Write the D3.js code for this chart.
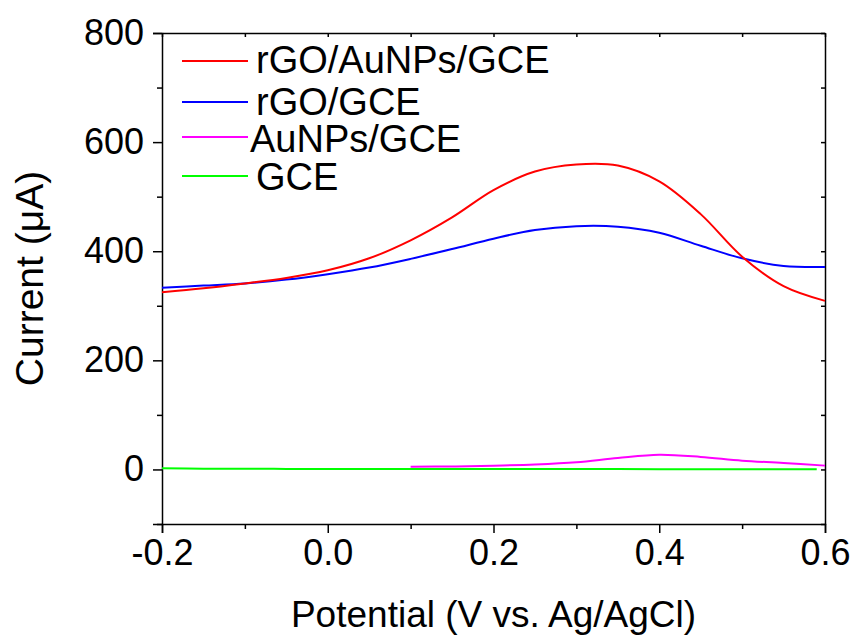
<!DOCTYPE html>
<html lang="en">
<head>
  <meta charset="UTF-8">
  <script src="https://cdn.jsdelivr.net/npm/d3@7/dist/d3.min.js"></script>
  <title>Current vs Potential</title>
  <style>
    body { margin: 0; background: #fff; }
    svg { display: block; }
    text { font-family: "Liberation Sans", Arial, sans-serif; fill: #000; }
    .axis path, .axis line { stroke: #000; stroke-width: 1.5; }
  </style>
</head>
<body>
<div id="chart"></div>
<script>
  // Data
  var potential = [-0.2, -0.15, -0.1, -0.05, 0.0, 0.05, 0.1, 0.15, 0.2, 0.25, 0.3, 0.35, 0.4, 0.45, 0.5, 0.55, 0.6];
  var rgoAu   = [325, 332, 341, 351, 365, 387, 420, 462, 512, 546, 559, 557, 528, 468, 390, 336, 309];
  var rgo     = [333, 337, 341, 348, 358, 370, 386, 404, 423, 439, 446, 445, 434, 410, 387, 373, 371];
  var gce     = [2, 1.5, 1.5, 1, 1, 1, 1, 1, 1, 1, 1, 1, 0.5, 0.5, 0.5, 0.5, 0.5];
  var potentialAu = [0.1, 0.15, 0.2, 0.25, 0.3, 0.35, 0.4, 0.45, 0.5, 0.55, 0.6];
  var auNPs   = [5, 5.5, 7, 9, 13, 21, 27, 23, 16, 12, 7];

  var seriesNames  = ["rGO/AuNPs/GCE", "rGO/GCE", "AuNPs/GCE", "GCE"];
  var seriesColors = ["#ff0000", "#0000ff", "#ff00ff", "#00ff00"];

  var xTicks = [-0.2, 0.0, 0.2, 0.4, 0.6];
  var xMinor = [-0.1, 0.1, 0.3, 0.5];
  var yTicks = [0, 200, 400, 600, 800];
  var yMinor = [-100, 100, 300, 500, 700];

  // Layout
  var margin = {top: 33, right: 28, bottom: 113, left: 162};
  var W = 853, H = 637;
  var width = W - margin.left - margin.right;
  var height = H - margin.top - margin.bottom;

  var svg = d3.select("#chart").append("svg")
      .attr("width", W)
      .attr("height", H);

  var g = svg.append("g")
      .attr("transform", "translate(" + margin.left + "," + margin.top + ")");

  var x = d3.scaleLinear().domain([-0.2, 0.6]).range([0, width]);
  var y = d3.scaleLinear().domain([-100, 800]).range([height, 0]);

  function tidy(sel) {
    sel.selectAll("text").attr("font-size", 36);
  }

  // Bottom axis (major + minor, outward)
  g.append("g").attr("class", "axis")
      .attr("transform", "translate(0," + height + ")")
      .call(d3.axisBottom(x).tickValues(xTicks).tickSize(9).tickPadding(6)
        .tickFormat(function(d) { return d.toFixed(1); }))
      .call(tidy);
  g.append("g").attr("class", "axis")
      .attr("transform", "translate(0," + height + ")")
      .call(d3.axisBottom(x).tickValues(xMinor).tickSize(5).tickFormat(""))
      .select(".domain").remove();

  // Left axis
  g.append("g").attr("class", "axis")
      .call(d3.axisLeft(y).tickValues(yTicks).tickSize(9).tickPadding(9))
      .call(tidy);
  g.append("g").attr("class", "axis")
      .call(d3.axisLeft(y).tickValues(yMinor).tickSize(5).tickFormat(""))
      .select(".domain").remove();

  // Top axis (inward ticks)
  g.append("g").attr("class", "axis")
      .call(d3.axisTop(x).tickValues(xTicks.concat(xMinor)).tickSizeInner(-4).tickSizeOuter(0).tickFormat(""));

  // Right axis (inward ticks)
  g.append("g").attr("class", "axis")
      .attr("transform", "translate(" + width + ",0)")
      .call(d3.axisRight(y).tickValues(yTicks.concat(yMinor)).tickSizeInner(-4).tickSizeOuter(0).tickFormat(""));

  g.selectAll(".axis .domain").attr("stroke-width", 1.8);

  // Lines
  var line = d3.line()
      .x(function(d) { return x(d[0]); })
      .y(function(d) { return y(d[1]); })
      .curve(d3.curveCatmullRom.alpha(0.5));

  var series = [
    d3.zip(potential, rgoAu),
    d3.zip(potential, rgo),
    d3.zip(potentialAu, auNPs),
    d3.zip(potential.slice(0, -1).concat([0.59]), gce)
  ];

  // draw green first, red last
  [3, 2, 1, 0].forEach(function(i) {
    g.append("path")
      .datum(series[i])
      .attr("fill", "none")
      .attr("stroke", seriesColors[i])
      .attr("stroke-width", 2)
      .attr("d", line);
  });

  // Legend
  var legendRows = [
    {ly: 28, ty: 40, tx: 94},
    {ly: 69, ty: 82, tx: 94},
    {ly: 104, ty: 119, tx: 88},
    {ly: 143, ty: 157, tx: 94}
  ];
  var legend = g.append("g").selectAll("g")
      .data(seriesNames)
      .enter().append("g");

  legend.append("line")
      .attr("x1", 20).attr("x2", 86)
      .attr("y1", function(d, i) { return legendRows[i].ly; })
      .attr("y2", function(d, i) { return legendRows[i].ly; })
      .attr("stroke", function(d, i) { return seriesColors[i]; })
      .attr("stroke-width", 2);

  legend.append("text")
      .attr("x", function(d, i) { return legendRows[i].tx; })
      .attr("y", function(d, i) { return legendRows[i].ty; })
      .attr("font-size", 38)
      .text(function(d) { return d; });

  // Axis titles
  svg.append("text")
      .attr("x", margin.left + width / 2)
      .attr("y", 627)
      .attr("text-anchor", "middle")
      .attr("font-size", 37)
      .text("Potential (V vs. Ag/AgCl)");

  svg.append("text")
      .attr("transform", "translate(43," + (margin.top + height / 2) + ") rotate(-90)")
      .attr("text-anchor", "middle")
      .attr("font-size", 39)
      .text("Current (\u03bcA)");
</script>
</body>
</html>
